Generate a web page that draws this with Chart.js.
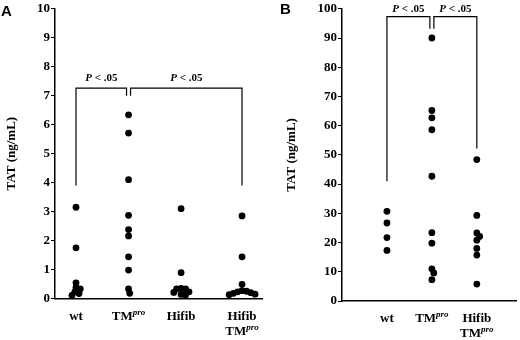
<!DOCTYPE html>
<html>
<head>
<meta charset="utf-8">
<script src="https://cdn.jsdelivr.net/npm/chart.js@4/dist/chart.umd.min.js"></script>
<style>
    body { margin: 0; background: #fff; }
    #wrap { position: relative; width: 520px; height: 340px; }
    canvas { position: absolute; top: 0; }
    #chartA { left: 0; }
    #chartB { left: 268px; }
    .tag { position: absolute; font: bold 15px "Liberation Sans", Arial, sans-serif; color: #000; }
</style>
</head>
<body>
<div id="wrap">
    <canvas id="chartA" width="268" height="340"></canvas>
    <canvas id="chartB" width="252" height="340"></canvas>
    <div class="tag" style="left:1px;top:2px">A</div>
    <div class="tag" style="left:280px;top:0px">B</div>
</div>
<script>
// Panel A: TAT (ng/mL) per genotype
const labelsA = ['wt', 'TM^pro', 'Hifib', 'Hifib\nTM^pro'];
const wtA = [3.15, 1.75, 0.54, 0.38, 0.33, 0.23, 0.17, 0.11];
const tmA = [6.34, 5.71, 4.10, 2.87, 2.38, 2.16, 1.44, 0.98, 0.33, 0.18];
const hifibA = [3.10, 0.89, 0.35, 0.33, 0.33, 0.23, 0.21, 0.14, 0.12];
const hifibTmA = [2.85, 1.44, 0.49, 0.27, 0.25, 0.23, 0.20, 0.18, 0.15, 0.13];
const ticksA = [0, 10, 1];

// Panel B
const labelsB = ['wt', 'TM^pro', 'Hifib\nTM^pro'];
const wtB = [30.7, 26.7, 21.7, 17.3];
const tmB = [90.0, 65.2, 62.7, 58.6, 42.7, 23.4, 19.8, 11.0, 9.6, 7.3];
const hifibTmB = [48.4, 29.3, 23.3, 22.1, 20.8, 18.0, 15.7, 5.8];
const ticksB = [0, 100, 10];

const pText = 'P < .05';

// layout: where each group sits on the linear x axis
const posA = [1, 2, 3, 4.16];
const posB = [1, 2, 3];

const serif = "'Liberation Serif', 'Times New Roman', serif";

// draws "TM^pro" style text, centred on cx
function drawRich(ctx, line, cx, cy) {
    const parts = line.split('^');
    ctx.font = 'bold 13px ' + serif;
    const wb = ctx.measureText(parts[0]).width;
    let ws = 0;
    if (parts[1]) {
        ctx.font = 'italic bold 9px ' + serif;
        ws = ctx.measureText(parts[1]).width;
    }
    const start = cx - (wb + ws) / 2;
    ctx.textAlign = 'left';
    ctx.textBaseline = 'middle';
    ctx.font = 'bold 13px ' + serif;
    ctx.fillText(parts[0], start, cy);
    if (parts[1]) {
        ctx.font = 'italic bold 9px ' + serif;
        ctx.fillText(parts[1], start + wb, cy - 4);
    }
}

function drawP(ctx, cx, cy) {
    ctx.font = 'italic bold 11px ' + serif;
    const wp = ctx.measureText(pText[0]).width;
    ctx.font = 'bold 11px ' + serif;
    const wr = ctx.measureText(pText.slice(1)).width;
    const start = cx - (wp + wr) / 2;
    ctx.textAlign = 'left';
    ctx.textBaseline = 'middle';
    ctx.font = 'italic bold 11px ' + serif;
    ctx.fillText(pText[0], start, cy);
    ctx.font = 'bold 11px ' + serif;
    ctx.fillText(pText.slice(1), start + wp, cy);
}

const extras = {
    id: 'extras',
    afterDraw(chart, args, opts) {
        const { ctx, scales: { x, y } } = chart;
        ctx.save();
        ctx.fillStyle = '#000';
        ctx.strokeStyle = '#000';
        opts.labels.forEach((lab, i) => {
            const cx = x.getPixelForValue(opts.pos[i]);
            lab.split('\n').forEach((line, k) => drawRich(ctx, line, cx, y.bottom + 18 + k * 15));
        });
        const shared = idx => opts.brackets.filter(o => o.from === idx || o.to === idx).length > 1;
        ctx.lineWidth = 1.2;
        opts.brackets.forEach(b => {
            const xl = x.getPixelForValue(opts.pos[b.from]) + (shared(b.from) ? 2 : 0);
            const xr = x.getPixelForValue(opts.pos[b.to]) - (shared(b.to) ? 2 : 0);
            const yt = y.getPixelForValue(b.level);
            ctx.beginPath();
            ctx.moveTo(xl, y.getPixelForValue(b.dropL));
            ctx.lineTo(xl, yt);
            ctx.lineTo(xr, yt);
            ctx.lineTo(xr, y.getPixelForValue(b.dropR));
            ctx.stroke();
            drawP(ctx, (xl + xr) / 2, yt - opts.textGap);
        });
        ctx.restore();
    }
};

// simple beeswarm: horizontal offsets (px) so dots do not pile up
function swarm(values, yScale, d) {
    const placed = [];
    const offs = new Array(values.length);
    const order = values.map((v, i) => i).sort((a, b) => values[b] - values[a]);
    order.forEach(i => {
        const py = yScale.getPixelForValue(values[i]);
        const near = placed.filter(p => Math.abs(p.y - py) < d);
        const cands = [0];
        near.forEach(p => {
            const dx = Math.sqrt(d * d - (p.y - py) ** 2);
            cands.push(p.x + dx, p.x - dx);
        });
        cands.sort((a, b) => Math.abs(a) - Math.abs(b));
        const px = cands.find(c => near.every(p => (p.x - c) ** 2 + (p.y - py) ** 2 >= d * d - 0.01));
        placed.push({ x: px, y: py });
        offs[i] = px;
    });
    return offs;
}

function makeChart(id, groups, pos, cfg) {
    const chart = new Chart(document.getElementById(id), {
        type: 'scatter',
        data: {
            datasets: groups.map((g, i) => ({
                data: g.map(v => ({ x: pos[i], y: v })),
                backgroundColor: '#000',
                borderWidth: 0,
                pointRadius: 3.4,
                pointHoverRadius: 3.4
            }))
        },
        options: {
            responsive: false,
            animation: false,
            layout: { padding: cfg.padding },
            scales: {
                x: {
                    type: 'linear',
                    min: cfg.xMin,
                    max: cfg.xMax,
                    ticks: { display: false },
                    grid: { display: false, drawTicks: false },
                    border: { color: '#000', width: 1.5 },
                    afterFit: s => { s.height = cfg.xHeight; }
                },
                y: {
                    min: cfg.ticks[0],
                    max: cfg.ticks[1],
                    ticks: {
                        stepSize: cfg.ticks[2],
                        color: '#000',
                        padding: 1,
                        font: { family: serif, weight: 'bold', size: 13 }
                    },
                    grid: { drawOnChartArea: false, tickLength: 4, color: '#000' },
                    border: { color: '#000', width: 1.5 },
                    title: {
                        display: true,
                        text: 'TAT (ng/mL)',
                        color: '#000',
                        padding: { top: 4, bottom: 0 },
                        font: { family: serif, weight: 'bold', size: 13 }
                    },
                    afterFit: s => { s.width = cfg.yWidth; }
                }
            },
            plugins: {
                legend: { display: false },
                tooltip: { enabled: false },
                extras: {
                    labels: cfg.labels,
                    pos: pos,
                    brackets: cfg.brackets,
                    textGap: cfg.textGap
                }
            }
        },
        plugins: [extras]
    });

    const { x, y } = chart.scales;
    chart.data.datasets.forEach((ds, i) => {
        const cx = x.getPixelForValue(pos[i]);
        const offs = swarm(groups[i], y, 4.5);
        ds.data = groups[i].map((v, k) => ({ x: x.getValueForPixel(cx + offs[k]), y: v }));
    });
    chart.update('none');
    return chart;
}

const chartA = makeChart('chartA', [wtA, tmA, hifibA, hifibTmA], posA, {
    labels: labelsA,
    ticks: ticksA,
    xMin: 0.6,
    xMax: 4.54,
    padding: { top: 7, left: 0, right: 6, bottom: 0 },
    yWidth: 55,
    xHeight: 41.5,
    textGap: 10,
    brackets: [
        { from: 0, to: 1, level: 7.26, dropL: 3.9, dropR: 7.0 },
        { from: 1, to: 3, level: 7.26, dropL: 7.0, dropR: 3.9 }
    ]
});

const chartB = makeChart('chartB', [wtB, tmB, hifibTmB], posB, {
    labels: labelsB,
    ticks: ticksB,
    xMin: 0,
    xMax: 3.885,
    padding: { top: 8, left: 12, right: 2, bottom: 0 },
    yWidth: 62,
    xHeight: 39,
    textGap: 8,
    brackets: [
        { from: 0, to: 1, level: 97.3, dropL: 41, dropR: 93.2 },
        { from: 1, to: 2, level: 97.3, dropL: 93.2, dropR: 52.2 }
    ]
});
</script>
</body>
</html>
